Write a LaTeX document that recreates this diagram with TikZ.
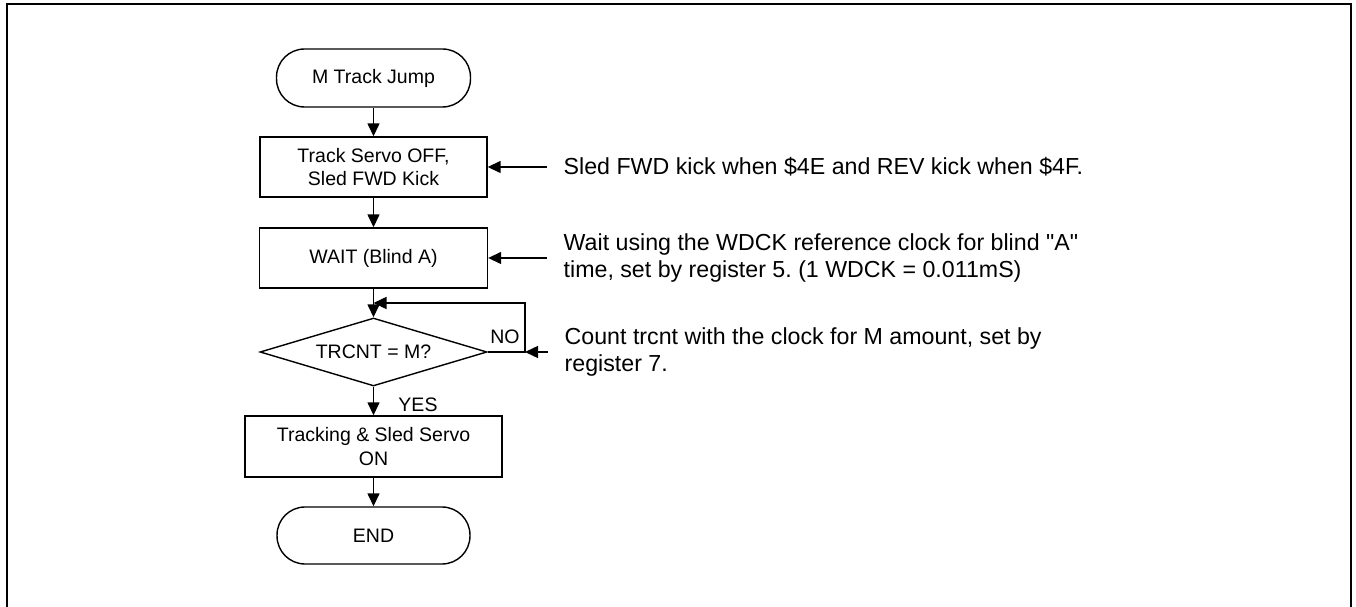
\documentclass[tikz,border=0pt]{standalone}
\usepackage{fontspec}
\setmainfont{Liberation Sans}[Ligatures=TeXOff]
\usepackage{tikz}
\usetikzlibrary{arrows.meta,shapes.geometric}
\frenchspacing

\newcommand{\flowfont}{\fontsize{11.1}{13.6}\selectfont}
\newcommand{\remarkfont}{\fontsize{13.2}{15.3}\selectfont}

\tikzset{
	term/.style={draw, rounded corners=0.56cm, minimum width=3.88cm, minimum height=1.16cm, inner sep=0pt, font=\flowfont},
	proc/.style={draw, minimum height=1.2cm, inner sep=0pt, align=center, font=\flowfont},
	decide/.style={draw, diamond, aspect=3.34, minimum width=4.54cm, minimum height=1.36cm, inner sep=0pt, font=\flowfont},
	remark/.style={anchor=west, align=left, inner xsep=0.32cm, inner ysep=0pt, font=\remarkfont},
	flow/.style={-{Triangle[length=0.26cm,width=0.24cm]}},
}

\begin{document}
\begin{tikzpicture}[x=0.02cm, y=-0.02cm, thick]
			%%Location
			\useasboundingbox (0,0) rectangle (1356,607);
			%%Frame
			\draw[line width=1.1pt] (7,607) -- (7,4) -- (1351,4) -- (1351,607);
			
			%%Flow
			\node (start) [term] at (373.5,78) {M Track Jump};
			\node (kick) [proc, minimum width=4.54cm] at (373.5,167) {Track Servo OFF,\\Sled FWD Kick};
			\node (wait) [proc, minimum width=4.56cm] at (373.5,258) {WAIT (Blind A)};
			\node (test) [decide] at (373.5,352) {TRCNT = M?};
			\node (servo) [proc, minimum width=5.14cm, minimum height=1.22cm] at (373.5,446.5) {Tracking \& Sled Servo\\ON};
			\node (stop) [term, minimum width=3.86cm, minimum height=1.14cm] at (373.5,535.5) {END};
			
			\draw[flow] (start) -- (kick);
			\draw[flow] (kick) -- (wait);
			\draw[flow] (wait) -- (test);
			\draw[flow] (test) -- (servo);
			\draw[flow] (servo) -- (stop);
			
			%%Loop
			\coordinate (join) at (373.5,303);
			\coordinate (noturn) at (525,352);
			\draw[flow] (test.east) -- (noturn) |- (join);
			\node (no) at (505,337) [font=\flowfont] {NO};
			\node (yes) at (418,405) [font=\flowfont] {YES};
			
			%%Remarks
			\node (rkick) [remark] at (547,167) {Sled FWD kick when \$4E and REV kick when \$4F.};
			\node (rwait) [remark] at (547,258) {Wait using the WDCK reference clock for blind "A"\\time, set by register 5. (1 WDCK = 0.011mS)};
			\node (rtest) [remark] at (548,352) {Count trcnt with the clock for M amount, set by\\register 7.};
			
			\draw[flow] (rkick.west) -- (kick.east);
			\draw[flow] (rwait.west) -- (wait.east);
			\draw[flow] (rtest.west) -- (noturn);
\end{tikzpicture}
\end{document}
